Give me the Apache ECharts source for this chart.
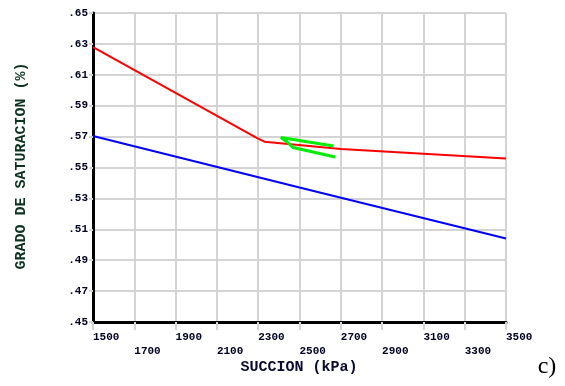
<!DOCTYPE html>
<html>
<head>
<meta charset="utf-8">
<script src="https://cdn.jsdelivr.net/npm/echarts@6/dist/echarts.min.js"></script>
<style>
  html, body { margin: 0; padding: 0; background: #fff; }
  #chart { width: 565px; height: 386px; }
</style>
</head>
<body>
<div id="chart"></div>
<script>
// datos (succion kPa, grado de saturacion)
const redData = [[1500, 0.6279], [2295, 0.5690], [2330, 0.5667], [2700, 0.5620], [3500, 0.5558]]
const blueData = [[1500, 0.5704], [2500, 0.5370], [3500, 0.5040]]
const greenData = [[2664, 0.5639], [2410, 0.5694], [2440, 0.5665], [2469, 0.5629], [2672, 0.5568]]

// etiquetas de los ejes
const xTickLabels = ['1500', '1700', '1900', '2100', '2300', '2500', '2700', '2900', '3100', '3300', '3500']
const yTickLabels = ['.45', '.47', '.49', '.51', '.53', '.55', '.57', '.59', '.61', '.63', '.65']

// origen de las escalas (los ticks se cuentan desde min)
const xBase = 1500
const yBase = 0.45

const toChart = (arr) => arr.map((p) => [p[0] - xBase, (p[1] - yBase) * 100])

const mono = '"Liberation Mono", "DejaVu Sans Mono", monospace'
const gridColor = '#d4d4d4'

const option = {
  animation: false,
  grid: { left: 93, right: 59, top: 13, bottom: 64 },
  xAxis: {
    type: 'value',
    min: 0,
    max: 2000,
    interval: 200,
    axisLine: { show: true, onZero: false, lineStyle: { color: '#000', width: 3 } },
    axisTick: { show: true, length: 8, lineStyle: { color: gridColor, width: 2 } },
    splitLine: { show: true, lineStyle: { color: gridColor, width: 2 } },
    axisLabel: {
      align: 'left',
      margin: 8,
      fontFamily: mono,
      fontWeight: 'bold',
      fontSize: 11,
      lineHeight: 14,
      color: '#000022',
      formatter: function (v) {
        const i = Math.round(v / 200)
        return i % 2 === 1 ? '\n' + xTickLabels[i] : xTickLabels[i]
      }
    }
  },
  yAxis: {
    type: 'value',
    min: 0,
    max: 20,
    interval: 2,
    axisLine: { show: true, onZero: false, lineStyle: { color: '#000', width: 3 } },
    axisTick: { show: true, length: 4, lineStyle: { color: gridColor, width: 2 } },
    splitLine: { show: true, lineStyle: { color: gridColor, width: 2 } },
    axisLabel: {
      margin: 5,
      fontFamily: mono,
      fontWeight: 'bold',
      fontSize: 11,
      color: '#000022',
      formatter: function (v) {
        return yTickLabels[Math.round(v / 2)]
      }
    }
  },
  series: [
    {
      type: 'line',
      data: toChart(blueData),
      symbol: 'none',
      lineStyle: { color: '#0000ff', width: 2 }
    },
    {
      type: 'line',
      data: toChart(redData),
      symbol: 'none',
      lineStyle: { color: '#ff0000', width: 2 }
    },
    {
      type: 'line',
      data: toChart(greenData),
      symbol: 'none',
      lineStyle: { color: '#00ee00', width: 3 }
    }
  ],
  graphic: [
    {
      type: 'text',
      x: 299,
      y: 367,
      style: {
        text: 'SUCCION (kPa)',
        font: 'bold 15px ' + mono,
        fill: '#0a0a30',
        textAlign: 'center',
        textVerticalAlign: 'middle'
      }
    },
    {
      type: 'text',
      x: 21,
      y: 166,
      rotation: Math.PI / 2,
      style: {
        text: 'GRADO DE SATURACION (%)',
        font: 'bold 15px ' + mono,
        fill: '#0b3320',
        textAlign: 'center',
        textVerticalAlign: 'middle'
      }
    },
    {
      type: 'text',
      x: 547,
      y: 367,
      style: {
        text: 'c)',
        font: '24px "Liberation Serif", serif',
        fill: '#000',
        textAlign: 'center',
        textVerticalAlign: 'middle'
      }
    }
  ]
}

const chart = echarts.init(document.getElementById('chart'))
chart.setOption(option)
</script>
</body>
</html>
